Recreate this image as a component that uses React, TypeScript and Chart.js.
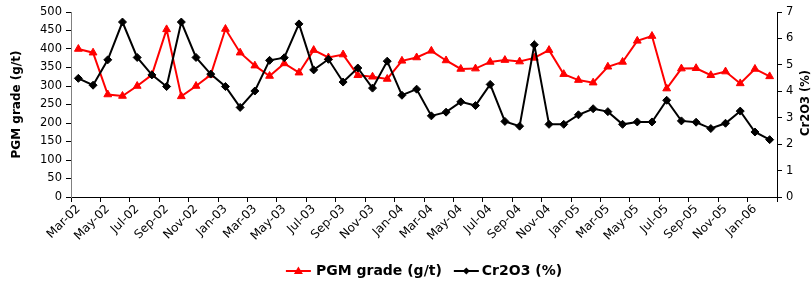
import React, { useEffect, useRef } from "react";
import { Chart, registerables } from "chart.js";

Chart.register(...registerables);

const months: string[] = [
  "Mar-02", "Apr-02", "May-02", "Jun-02", "Jul-02", "Aug-02", "Sep-02", "Oct-02", "Nov-02", "Dec-02",
  "Jan-03", "Feb-03", "Mar-03", "Apr-03", "May-03", "Jun-03", "Jul-03", "Aug-03", "Sep-03", "Oct-03",
  "Nov-03", "Dec-03", "Jan-04", "Feb-04", "Mar-04", "Apr-04", "May-04", "Jun-04", "Jul-04", "Aug-04",
  "Sep-04", "Oct-04", "Nov-04", "Dec-04", "Jan-05", "Feb-05", "Mar-05", "Apr-05", "May-05", "Jun-05",
  "Jul-05", "Aug-05", "Sep-05", "Oct-05", "Nov-05", "Dec-05", "Jan-06", "Feb-06",
];

const pgmGrade: number[] = [
  400, 390, 277, 273, 300, 330, 453, 272, 300, 330,
  454, 390, 355, 327, 361, 336, 397, 377, 385, 329,
  325, 319, 368, 377, 395, 369, 346, 347, 365, 370,
  366, 376, 397, 332, 316, 309, 352, 365, 422, 435,
  293, 347, 348, 329, 339, 307, 346, 326,
];

const cr2o3: number[] = [
  4.49, 4.23, 5.19, 6.62, 5.28, 4.62, 4.18, 6.62, 5.28, 4.65,
  4.18, 3.39, 4.01, 5.17, 5.27, 6.55, 4.81, 5.21, 4.35, 4.88,
  4.12, 5.14, 3.85, 4.08, 3.07, 3.21, 3.6, 3.46, 4.26, 2.86,
  2.68, 5.76, 2.75, 2.75, 3.11, 3.34, 3.23, 2.75, 2.84, 2.84,
  3.66, 2.88, 2.83, 2.59, 2.79, 3.25, 2.46, 2.17,
];

const seriesNames: string[] = ["PGM grade (g/t)", "Cr2O3 (%)"];
const axisTitles: string[] = ["PGM grade (g/t)", "Cr2O3 (%)"];

const FONT = "'DejaVu Sans', sans-serif";

const decorPlugin = {
  id: "decor",
  afterDraw(chart: any) {
    const ctx = chart.ctx as CanvasRenderingContext2D;
    const area = chart.chartArea;
    ctx.save();
    ctx.fillStyle = "#000";
    // axis titles (both read bottom-to-top)
    ctx.font = `bold 12px ${FONT}`;
    ctx.textAlign = "center";
    ctx.textBaseline = "middle";
    ctx.save();
    ctx.translate(17, (area.top + area.bottom) / 2);
    ctx.rotate(-Math.PI / 2);
    ctx.fillText(axisTitles[0], 0, 0);
    ctx.restore();
    ctx.save();
    ctx.font = `bold 11.5px ${FONT}`;
    ctx.translate(806, 103);
    ctx.rotate(-Math.PI / 2);
    ctx.fillText(axisTitles[1], 0, 0);
    ctx.restore();

    // legend, centred under the plot area
    const ly = 271;
    ctx.font = `bold 14px ${FONT}`;
    ctx.textAlign = "left";
    ctx.textBaseline = "middle";
    const w0 = ctx.measureText(seriesNames[0]).width;
    const w1 = ctx.measureText(seriesNames[1]).width;
    const lineLen = 25;
    const gapText0 = 5;
    const gapText1 = 3;
    const gapItems = 12;
    const total = lineLen + gapText0 + w0 + gapItems + lineLen + gapText1 + w1;
    let x = (area.left + area.right) / 2 - total / 2;

    // red item
    ctx.strokeStyle = "#FF0000";
    ctx.lineWidth = 2;
    ctx.beginPath();
    ctx.moveTo(x, ly);
    ctx.lineTo(x + lineLen, ly);
    ctx.stroke();
    ctx.fillStyle = "#FF0000";
    const cx = x + lineLen / 2;
    ctx.beginPath();
    ctx.moveTo(cx, ly - 4.5);
    ctx.lineTo(cx + 4.5, ly + 3);
    ctx.lineTo(cx - 4.5, ly + 3);
    ctx.closePath();
    ctx.fill();
    x += lineLen + gapText0;
    ctx.fillStyle = "#000";
    ctx.fillText(seriesNames[0], x, ly);
    x += w0 + gapItems;

    // black item
    ctx.strokeStyle = "#000";
    ctx.beginPath();
    ctx.moveTo(x, ly);
    ctx.lineTo(x + lineLen, ly);
    ctx.stroke();
    const cx2 = x + lineLen / 2;
    ctx.beginPath();
    ctx.moveTo(cx2, ly - 3.5);
    ctx.lineTo(cx2 + 3.5, ly);
    ctx.lineTo(cx2, ly + 3.5);
    ctx.lineTo(cx2 - 3.5, ly);
    ctx.closePath();
    ctx.fill();
    x += lineLen + gapText1;
    ctx.fillText(seriesNames[1], x, ly);
    ctx.restore();
  },
};

export default function App() {
  const ref = useRef<HTMLCanvasElement | null>(null);

  useEffect(() => {
    if (!ref.current) return;
    const chart = new Chart(ref.current, {
      type: "line",
      data: {
        labels: months,
        datasets: [
          {
            label: seriesNames[0],
            data: pgmGrade,
            yAxisID: "y",
            borderColor: "#FF0000",
            backgroundColor: "#FF0000",
            borderWidth: 2,
            pointStyle: "triangle",
            pointRadius: 4.5,
            pointBorderWidth: 1,
            tension: 0,
            order: 1,
          },
          {
            label: seriesNames[1],
            data: cr2o3,
            yAxisID: "y1",
            borderColor: "#000000",
            backgroundColor: "#000000",
            borderWidth: 2,
            pointStyle: "rectRot",
            pointRadius: 4,
            pointBorderWidth: 1,
            tension: 0,
            order: 0,
          },
        ],
      },
      options: {
        responsive: false,
        animation: false,
        layout: { padding: { top: 12, bottom: 39, left: 0, right: 0 } },
        plugins: {
          legend: { display: false },
          tooltip: { enabled: false },
          title: { display: false },
        },
        scales: {
          x: {
            type: "category",
            offset: true,
            grid: {
              offset: true,
              drawOnChartArea: false,
              drawTicks: true,
              tickLength: 5,
              lineWidth: 1,
              color: (c: any) =>
                c.index === undefined || c.index % 2 === 0 ? "#000" : "rgba(0,0,0,0)",
            },
            border: { display: true, color: "#000", width: 1 },
            ticks: {
              autoSkip: false,
              maxRotation: 45,
              minRotation: 45,
              color: "#000",
              padding: 0,
              font: { family: FONT, size: 12 },
              callback: (_v: any, i: number) => (i % 2 === 0 ? months[i] : ""),
            },
            afterFit: (s: any) => {
              s.height = 50;
            },
          },
          y: {
            position: "left",
            min: 0,
            max: 500,
            ticks: {
              stepSize: 50,
              color: "#000",
              padding: 4,
              font: { family: FONT, size: 11.5 },
            },
            grid: {
              drawOnChartArea: false,
              drawTicks: true,
              tickLength: 5,
              color: "#000",
            },
            border: { display: true, color: "#808080", width: 1 },
            afterFit: (s: any) => {
              s.width = 71;
            },
          },
          y1: {
            position: "right",
            min: 0,
            max: 7,
            ticks: {
              stepSize: 1,
              color: "#000",
              padding: 4,
              font: { family: FONT, size: 11.5 },
            },
            grid: {
              drawOnChartArea: false,
              drawTicks: true,
              tickLength: 5,
              color: "#000",
            },
            border: { display: true, color: "#000", width: 1 },
            afterFit: (s: any) => {
              s.width = 35;
            },
          },
        },
      },
      plugins: [decorPlugin],
    } as any);
    return () => chart.destroy();
  }, []);

  return (
    <div style={{ position: "fixed", left: 0, top: 0, width: 812, height: 286, background: "#fff" }}>
      <canvas ref={ref} width={812} height={286} style={{ display: "block" }} />
    </div>
  );
}
